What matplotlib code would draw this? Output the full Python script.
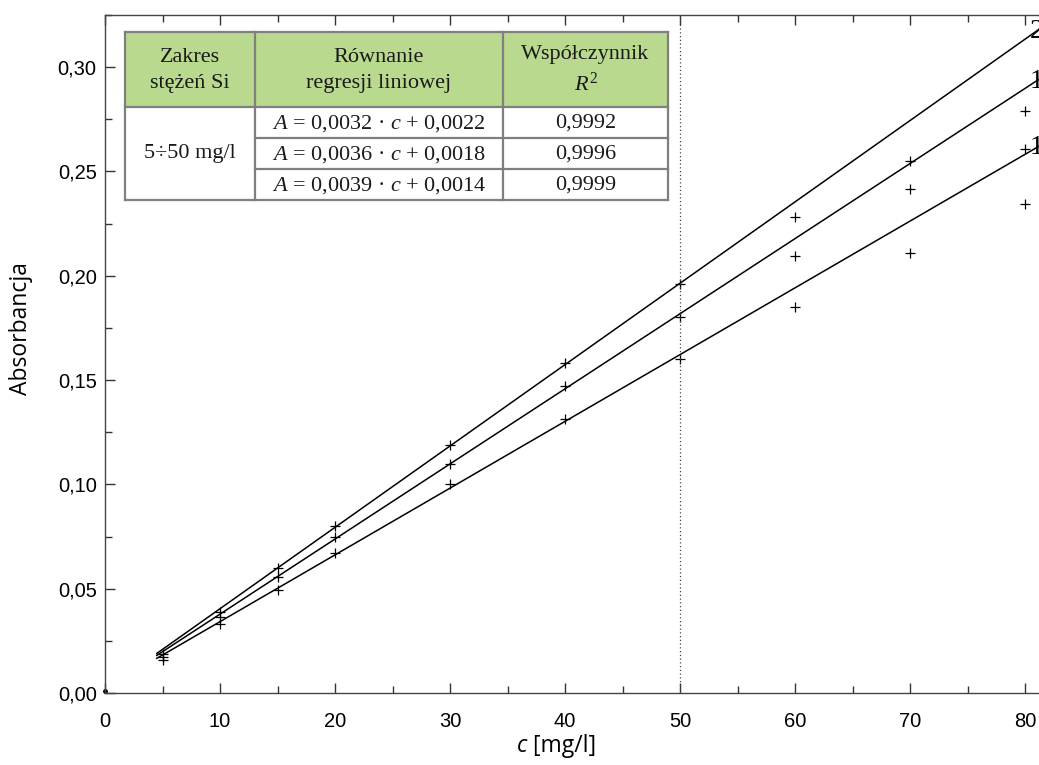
import matplotlib
matplotlib.use("Agg")
import matplotlib.pyplot as plt
import numpy as np
from matplotlib.ticker import FuncFormatter, MultipleLocator
from matplotlib.patches import Rectangle

# ---- data ----
conc = [5, 10, 15, 20, 30, 40, 50, 60, 70, 80]
abs_2 = [0.0187, 0.0390, 0.0600, 0.0800, 0.1190, 0.1580, 0.1960, 0.2280, 0.2550, 0.2790]
abs_1b = [0.0174, 0.0363, 0.0555, 0.0750, 0.1100, 0.1470, 0.1800, 0.2095, 0.2415, 0.2610]
abs_1a = [0.0160, 0.0330, 0.0495, 0.0670, 0.1000, 0.1315, 0.1600, 0.1850, 0.2110, 0.2345]
slopes = [0.0039, 0.0036, 0.0032]
intercepts = [0.0014, 0.0018, 0.0022]
line_labels = ["2", "1", "1"]
fit_range = [4.5, 82]

table_header = ["Zakres\nstężeń Si", "Równanie\nregresji liniowej", "Współczynnik\n$\\mathit{R}^2$"]
table_range = "5÷50 mg/l"
table_eq = ["$\\mathit{A}$ = 0,0032 · $\\mathit{c}$ + 0,0022",
            "$\\mathit{A}$ = 0,0036 · $\\mathit{c}$ + 0,0018",
            "$\\mathit{A}$ = 0,0039 · $\\mathit{c}$ + 0,0014"]
table_r2 = ["0,9992", "0,9996", "0,9999"]

plt.rcParams['font.family'] = ['Liberation Sans', 'DejaVu Sans']
plt.rcParams['mathtext.fontset'] = 'custom'
plt.rcParams['mathtext.rm'] = 'Liberation Serif'
plt.rcParams['mathtext.it'] = 'Liberation Serif:italic'

W, H = 1039, 765
fig = plt.figure(figsize=(W / 100, H / 100), dpi=100)
ax = fig.add_axes([105 / W, 1 - 693 / H, 943 / W, 678 / H])
ax.set_xlim(0, 82)
ax.set_ylim(0, 0.325)

for ys in (abs_2, abs_1b, abs_1a):
    ax.plot(conc, ys, linestyle='none', marker='+', color='black', markersize=7, markeredgewidth=0.9)
ax.plot([0], [0.001], marker='o', markersize=2.5, color='black', clip_on=False)

xs = np.array(fit_range)
for m, b in zip(slopes, intercepts):
    ax.plot(xs, m * xs + b, color='black', linewidth=1.1)

for m, b, lab in zip(slopes, intercepts, line_labels):
    xl = 80.4
    ax.text(xl, m * xl + b + 0.002, lab, fontsize=20, family='Liberation Serif',
            ha='left', va='center', clip_on=False)

ax.axvline(50, color='#444444', linestyle=(0, (1, 2)), linewidth=0.9)

# axes styling
for s in ax.spines.values():
    s.set_color('#444444')
    s.set_linewidth(1.0)
ax.spines['right'].set_visible(False)
ax.xaxis.set_major_locator(MultipleLocator(10))
ax.xaxis.set_minor_locator(MultipleLocator(5))
ax.yaxis.set_major_locator(MultipleLocator(0.05))
ax.yaxis.set_minor_locator(MultipleLocator(0.025))
ax.tick_params(which='both', direction='in', top=True, right=False, colors='#333333',
               labelcolor='black', labelsize=14.5)
ax.tick_params(which='major', length=7, width=1)
ax.tick_params(which='minor', length=5, width=1)
ax.tick_params(axis='x', pad=14)
ax.tick_params(axis='y', pad=6)
ax.yaxis.set_major_formatter(FuncFormatter(lambda v, p: f"{v:.2f}".replace('.', ',')))
ax.xaxis.set_major_formatter(FuncFormatter(lambda v, p: f"{v:.0f}"))

ax.set_ylabel("Absorbancja", fontsize=16.5, family='Open Sans')
ax.yaxis.set_label_coords(-0.0764, 0.538)

# x label: italic c + regular unit, Open Sans
t_c = ax.text(0.437, -0.087, "c", transform=ax.transAxes, fontsize=16.5, family='Open Sans',
              style='italic', ha='left', va='baseline')
ax.annotate(" [mg/l]", xy=(1, 0), xycoords=t_c, fontsize=16.5, family='Open Sans',
            ha='left', va='bottom')

# ---- table (pixel layout) ----
def fx(px):
    return px / W

def fy(py):
    return 1 - py / H

cols = [125, 255, 503, 668]
rows = [32, 107, 138, 169, 200]
green = '#b9d98e'
edge = '#7f7f7f'
fig.add_artist(Rectangle((fx(cols[0]), fy(rows[-1])), fx(cols[3]) - fx(cols[0]), fy(rows[0]) - fy(rows[-1]),
                         transform=fig.transFigure, facecolor='white', edgecolor='none', zorder=5))
fig.add_artist(Rectangle((fx(cols[0]), fy(rows[1])), fx(cols[3]) - fx(cols[0]), fy(rows[0]) - fy(rows[1]),
                         transform=fig.transFigure, facecolor=green, edgecolor='none', zorder=5))
lw = 1.6
def hline(y, x0, x1):
    fig.add_artist(plt.Line2D([fx(x0), fx(x1)], [fy(y), fy(y)], transform=fig.transFigure,
                              color=edge, linewidth=lw, zorder=6))
def vline(x, y0, y1):
    fig.add_artist(plt.Line2D([fx(x), fx(x)], [fy(y0), fy(y1)], transform=fig.transFigure,
                              color=edge, linewidth=lw, zorder=6))
hline(rows[0], cols[0], cols[3])
hline(rows[1], cols[0], cols[3])
hline(rows[2], cols[1], cols[3])
hline(rows[3], cols[1], cols[3])
hline(rows[4], cols[0], cols[3])
for c in cols:
    vline(c, rows[0], rows[4])

tfont = dict(family='Liberation Serif', fontsize=16, zorder=7, color='#1a1a1a',
             ha='center', va='center', linespacing=1.45, transform=fig.transFigure)
for i, txt in enumerate(table_header):
    fig.text(fx((cols[i] + cols[i + 1]) / 2), fy((rows[0] + rows[1]) / 2 + 1), txt, **tfont)
fig.text(fx((cols[0] + cols[1]) / 2), fy((rows[1] + rows[4]) / 2), table_range, **tfont)
for r in range(3):
    yc = fy((rows[r + 1] + rows[r + 2]) / 2 + 1)
    fig.text(fx((cols[1] + cols[2]) / 2), yc, table_eq[r], **tfont)
    fig.text(fx((cols[2] + cols[3]) / 2), yc, table_r2[r], **tfont)

fig.savefig("out.png", dpi=100)
